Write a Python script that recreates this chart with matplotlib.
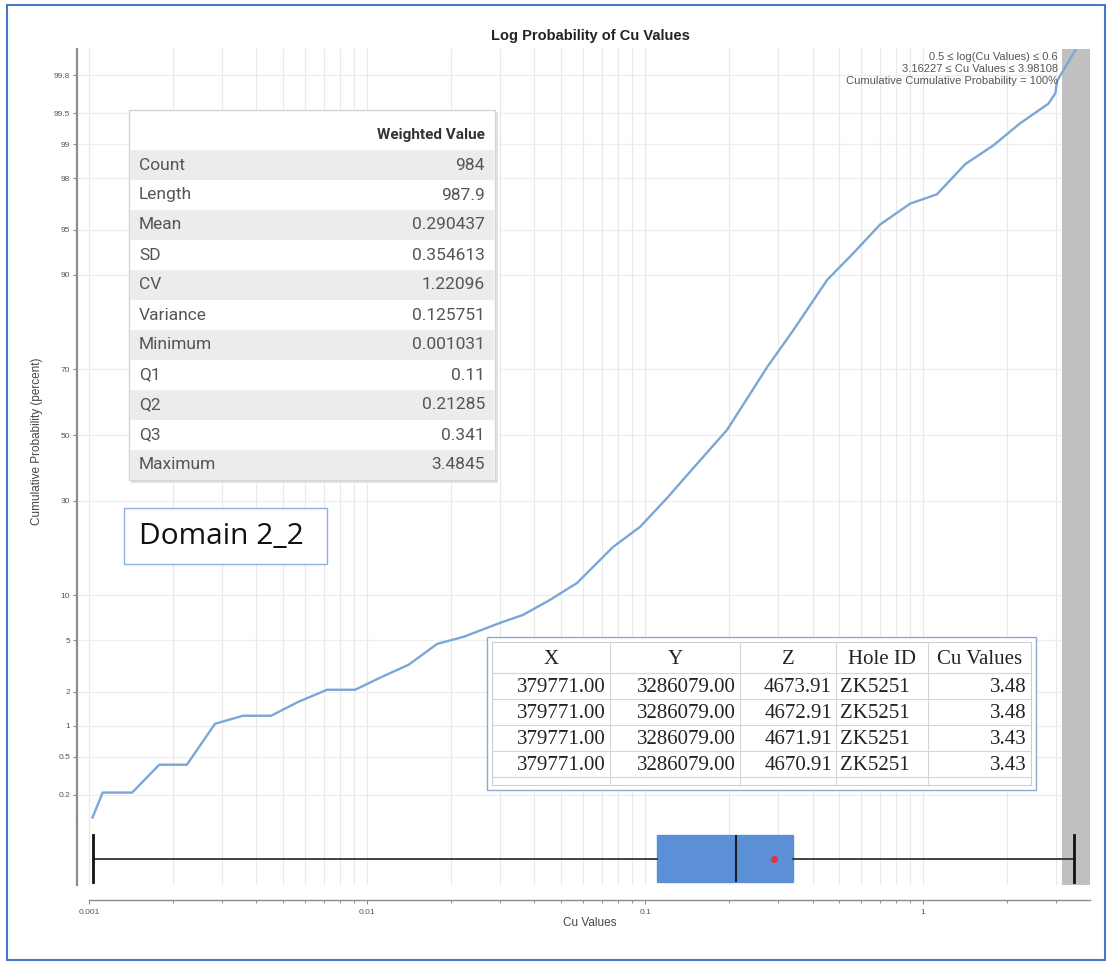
import numpy as np
import matplotlib
matplotlib.use('Agg')
import matplotlib.pyplot as plt
from matplotlib.patches import Rectangle
from matplotlib.ticker import FixedLocator, NullLocator, LogLocator, NullFormatter, FixedFormatter
from statistics import NormalDist

# ---------------- data ----------------
cu_values = [0.00103, 0.00112, 0.00143, 0.00179, 0.00225, 0.00284, 0.00358, 0.00452,
             0.00565, 0.00718, 0.00906, 0.0113, 0.0141, 0.0179, 0.0222, 0.0301, 0.0364,
             0.0455, 0.0569, 0.0767, 0.0959, 0.120, 0.145, 0.197, 0.225, 0.275, 0.341,
             0.452, 0.560, 0.700, 0.898, 1.12, 1.42, 1.79, 2.23, 2.82, 2.99, 3.03, 3.52, 3.98]
cum_prob = [0.11, 0.21, 0.21, 0.415, 0.415, 1.04, 1.23, 1.23, 1.63, 2.07, 2.07, 2.64,
            3.29, 4.73, 5.30, 6.63, 7.49, 9.34, 11.8, 18.5, 23.1, 30.7, 38.4, 51.6, 59.5,
            70.7, 79.9, 89.3, 92.7, 95.4, 96.8, 97.3, 98.5, 98.98, 99.37, 99.60, 99.69,
            99.77, 99.896, 99.95]

prob_ticks = [0.2, 0.5, 1, 2, 5, 10, 30, 50, 70, 90, 95, 98, 99, 99.5, 99.8]
prob_tick_labels = ['0.2', '0.5', '1', '2', '5', '10', '30', '50', '70', '90', '95',
                    '98', '99', '99.5', '99.8']
x_ticks = [0.001, 0.01, 0.1, 1]
x_tick_labels = ['0.001', '0.01', '0.1', '1']

highlight_lo, highlight_hi = 10 ** 0.5, 10 ** 0.6

stat_names = ['Count', 'Length', 'Mean', 'SD', 'CV', 'Variance', 'Minimum', 'Q1', 'Q2',
              'Q3', 'Maximum']
stat_values = ['984', '987.9', '0.290437', '0.354613', '1.22096', '0.125751', '0.001031',
               '0.11', '0.21285', '0.341', '3.4845']
box_min, box_q1, box_med, box_q3, box_max, box_mean = 0.001031, 0.11, 0.21285, 0.341, 3.4845, 0.290437

pt_header = ['X', 'Y', 'Z', 'Hole ID', 'Cu Values']
pt_x = ['379771.00', '379771.00', '379771.00', '379771.00']
pt_y = ['3286079.00', '3286079.00', '3286079.00', '3286079.00']
pt_z = ['4673.91', '4672.91', '4671.91', '4670.91']
pt_hole = ['ZK5251', 'ZK5251', 'ZK5251', 'ZK5251']
pt_cu = ['3.48', '3.48', '3.43', '3.43']

annot_lines = ['0.5 \u2264 log(Cu Values) \u2264 0.6',
               '3.16227 \u2264 Cu Values \u2264 3.98108',
               'Cumulative Cumulative Probability = 100%']

# ---------------- figure ----------------
W, H = 1109, 965
plt.rcParams['font.family'] = ['Liberation Sans', 'DejaVu Sans']
fig = plt.figure(figsize=(W / 100, H / 100), dpi=100)
fig.patch.set_facecolor('white')


def fx(x):
    return x / W


def fy(y):
    return 1 - y / H


_nd = NormalDist()
_ppf = np.vectorize(lambda p: _nd.inv_cdf(min(max(p / 100.0, 1e-12), 1 - 1e-12)),
                    otypes=[float])
_cdf = np.vectorize(lambda z: _nd.cdf(z) * 100.0, otypes=[float])


def forward(p):
    return _ppf(np.asarray(p, dtype=float))


def inverse(z):
    return _cdf(np.asarray(z, dtype=float))


L, R = 77, 1090
ax = fig.add_axes([fx(L), fy(821), (R - L) / W, (821 - 49) / H])
bax = fig.add_axes([fx(L), fy(885), (R - L) / W, (885 - 821) / H], sharex=ax)

spine_col = '#8c8c8c'
grid_col = '#e9e9e9'

ax.set_xscale('log')
ax.set_xlim(10 ** -3.043, 10 ** 0.6)
ax.set_yscale('function', functions=(forward, inverse))
ax.set_ylim(0.1, 99.9)

ax.set_axisbelow(True)
ax.xaxis.set_major_locator(FixedLocator(x_ticks))
ax.xaxis.set_minor_locator(LogLocator(base=10, subs=np.arange(2, 10)))
ax.xaxis.set_minor_formatter(NullFormatter())
ax.yaxis.set_major_locator(FixedLocator(prob_ticks))
ax.yaxis.set_major_formatter(FixedFormatter(prob_tick_labels))
ax.yaxis.set_minor_locator(NullLocator())
ax.grid(True, which='both', axis='x', color=grid_col, lw=0.9)
ax.grid(True, which='major', axis='y', color='#eeeeee', lw=0.9)
ax.tick_params(axis='x', which='both', length=0, labelbottom=False)
ax.tick_params(axis='y', which='major', length=3, width=0.8, color=spine_col,
               labelsize=6, labelcolor='#555555', pad=2)
for s in ['top', 'right', 'bottom']:
    ax.spines[s].set_visible(False)
ax.spines['left'].set_color(spine_col)
ax.spines['left'].set_linewidth(1.6)

ax.axvspan(highlight_lo, highlight_hi, color='#c0c0c0', lw=0, zorder=1)
ax.plot(cu_values, cum_prob, color='#7aa6d8', lw=1.7, zorder=3, clip_on=True)

# ---------------- box plot ----------------
bax.set_ylim(0, 1)
bax.set_axisbelow(True)
bax.set_yticks([])
bax.xaxis.set_major_locator(FixedLocator(x_ticks))
bax.xaxis.set_major_formatter(FixedFormatter(x_tick_labels))
bax.xaxis.set_minor_locator(LogLocator(base=10, subs=np.arange(2, 10)))
bax.xaxis.set_minor_formatter(NullFormatter())
bax.grid(True, which='both', axis='x', color=grid_col, lw=0.9)
bax.axvspan(highlight_lo, highlight_hi, color='#c0c0c0', lw=0, zorder=1)
for s in ['top', 'right']:
    bax.spines[s].set_visible(False)
bax.spines['left'].set_color(spine_col)
bax.spines['left'].set_linewidth(1.6)
bax.spines['bottom'].set_position(('outward', 11))
bax.spines['bottom'].set_bounds(0.001, 10 ** 0.6)
bax.spines['bottom'].set_color(spine_col)
bax.spines['bottom'].set_linewidth(1.0)
bax.tick_params(axis='x', which='major', length=3, width=0.8, color=spine_col,
                labelsize=6, labelcolor='#555555', pad=3)
bax.tick_params(axis='x', which='minor', length=2, width=0.7, color=spine_col)

stats = [dict(med=box_med, q1=box_q1, q3=box_q3, whislo=box_min, whishi=box_max,
              mean=box_mean, fliers=[])]
bxp_kw = dict(positions=[0.41], widths=0.73, showmeans=True, patch_artist=True,
              boxprops=dict(facecolor='#5b8fd6', edgecolor='#5b8fd6', lw=1),
              medianprops=dict(color='#111111', lw=1.3),
              whiskerprops=dict(color='#333333', lw=1.3),
              capprops=dict(color='#111111', lw=2.0),
              meanprops=dict(marker='o', markerfacecolor='#e8303f',
                             markeredgecolor='none', markersize=5),
              capwidths=0.73, manage_ticks=False, zorder=3)
try:
    bax.bxp(stats, orientation='horizontal', **bxp_kw)
except TypeError:
    bax.bxp(stats, vert=False, **bxp_kw)
bax.set_ylim(0, 1)
bax.set_xlim(10 ** -3.043, 10 ** 0.6)

# ---------------- texts ----------------
fig.text(fx(590), fy(36), 'Log Probability of Cu Values', ha='center', va='center',
         fontsize=10.5, fontweight='bold', color='#222222')
fig.text(fx(37), fy(441), 'Cumulative Probability (percent)', rotation=90,
         ha='center', va='center', fontsize=8.5, color='#444444')
fig.text(fx(590), fy(923), 'Cu Values', ha='center', va='center', fontsize=8.5,
         color='#444444')
for i, line in enumerate(annot_lines):
    fig.text(fx(1058), fy(57.5 + 11.5 * i), line, ha='right', va='center', fontsize=8,
             color='#555555', zorder=5)


def frect(x0, y0, x1, y1, **kw):
    r = Rectangle((fx(x0), fy(y1)), (x1 - x0) / W, (y1 - y0) / H,
                  transform=fig.transFigure, **kw)
    fig.patches.append(r)
    return r


# outer blue frame
frect(7, 5, 1105, 960, fill=False, edgecolor='#4a78c8', lw=1.5, zorder=10)

# ---------------- statistics table ----------------
tx0, tx1, ty0 = 129, 495, 110
head_h, row_h = 40, 30
ty1 = ty0 + head_h + row_h * len(stat_names)
frect(tx0 + 2, ty0 + 2, tx1 + 3, ty1 + 3, facecolor='#e2e2e2', edgecolor='none', zorder=4)
frect(tx0, ty0, tx1, ty1, facecolor='white', edgecolor='#d4d4d4', lw=1, zorder=4.1)
fig.text(fx(485), fy(ty0 + 25), 'Weighted Value', ha='right', va='center',
         fontsize=11, fontweight='bold', color='#333333', family='Roboto', zorder=6)
for i, (nm, val) in enumerate(zip(stat_names, stat_values)):
    r0 = ty0 + head_h + row_h * i
    if i % 2 == 0:
        frect(tx0 + 1, r0, tx1 - 1, r0 + row_h, facecolor='#ececec', edgecolor='none',
              zorder=4.2)
    fig.text(fx(139), fy(r0 + row_h / 2), nm, ha='left', va='center', fontsize=12.5,
             color='#555555', family='Roboto', zorder=6)
    fig.text(fx(485), fy(r0 + row_h / 2), val, ha='right', va='center', fontsize=12.5,
             color='#555555', family='Roboto', zorder=6)

# ---------------- domain label ----------------
frect(124, 508, 327, 564, facecolor='white', edgecolor='#8fb0dc', lw=1, zorder=4)
fig.text(fx(139), fy(537), 'Domain 2_2', ha='left', va='center', fontsize=21.5,
         color='#111111', family='Open Sans', zorder=6)

# ---------------- points table ----------------
frect(487, 637, 1036, 790, facecolor='white', edgecolor='#8fa9d0', lw=1, zorder=4)
frect(492, 642, 1031, 785, fill=False, edgecolor='#c9cfd8', lw=0.8, zorder=4.1)
col_edges = [492, 610, 740, 836, 928, 1031]
row_edges = [642, 673, 699, 725, 751, 777, 785]
for cx in col_edges[1:-1]:
    fig.lines.append(plt.Line2D([fx(cx), fx(cx)], [fy(642), fy(785)],
                                transform=fig.transFigure, color='#d2d6dc', lw=0.8,
                                zorder=4.2))
for ry in row_edges[1:-1]:
    fig.lines.append(plt.Line2D([fx(492), fx(1031)], [fy(ry), fy(ry)],
                                transform=fig.transFigure, color='#d2d6dc', lw=0.8,
                                zorder=4.2))
serif = ['Liberation Serif', 'DejaVu Serif']
for j, h in enumerate(pt_header):
    cx = (col_edges[j] + col_edges[j + 1]) / 2
    fig.text(fx(cx), fy(660), h, ha='center', va='center', fontsize=15,
             color='#222222', family=serif, zorder=6)
cols = [pt_x, pt_y, pt_z, pt_hole, pt_cu]
for i in range(len(pt_x)):
    yc = (row_edges[i + 1] + row_edges[i + 2]) / 2 + 1.5
    for j, col in enumerate(cols):
        if j == 3:
            fig.text(fx(col_edges[j] + 4), fy(yc), col[i], ha='left', va='center',
                     fontsize=15, color='#222222', family=serif, zorder=6)
        else:
            fig.text(fx(col_edges[j + 1] - 4), fy(yc), col[i], ha='right', va='center',
                     fontsize=15, color='#222222', family=serif, zorder=6)

fig.savefig('out.png', dpi=100, facecolor='white')
